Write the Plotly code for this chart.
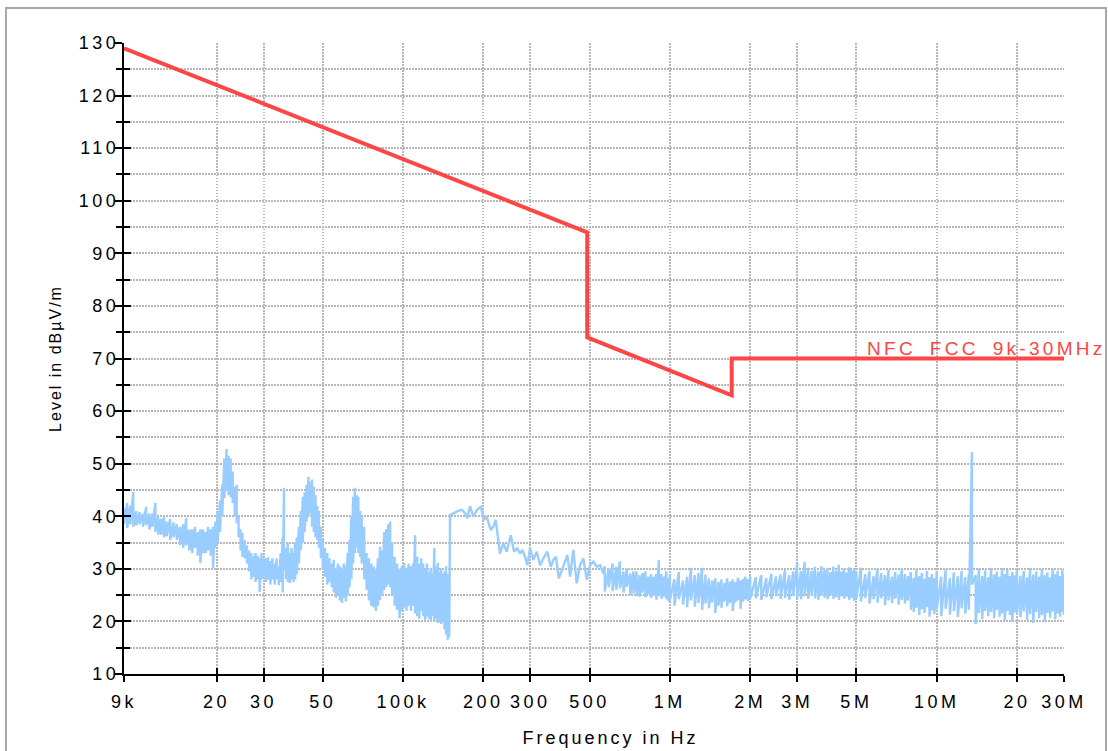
import math
import plotly.graph_objects as go

# ---------------- axis ticks ----------------
x_tick_vals = [9e3, 2e4, 3e4, 5e4, 1e5, 2e5, 3e5, 5e5, 1e6, 2e6, 3e6, 5e6, 1e7, 2e7, 3e7]
x_tick_text = ["9k", "20", "30", "50", "100k", "200", "300", "500", "1M", "2M", "3M", "5M", "10M", "20", "30M"]
y_tick_vals = [10, 20, 30, 40, 50, 60, 70, 80, 90, 100, 110, 120, 130]
y_minor_vals = [15, 25, 35, 45, 55, 65, 75, 85, 95, 105, 115, 125]

# ---------------- limit line ----------------
limit_name = "NFC_FCC_9k-30MHz"
limit_freq_hz = [9e3, 490e3, 490e3, 1.705e6, 1.705e6, 30e6]
limit_level = [129.0, 94.0, 74.0, 63.0, 70.0, 70.0]

# ---------------- measurement, 9 kHz - 150 kHz (peak hi / lo per step) ----------------
freq_a_khz = [9.0, 9.25, 9.5, 9.75, 10.0, 10.3, 10.6, 10.9, 11.2, 11.5, 11.8, 12.1, 12.4, 12.7, 13.0,
              13.4, 13.8, 14.2, 14.6, 15.0, 15.4, 15.8, 16.2, 16.6, 17.0, 17.4, 17.8, 18.2, 18.6, 19.0,
              19.4, 19.8, 20.2, 20.6, 21.0, 21.4, 21.8, 22.2, 22.6, 23.0, 23.4, 23.8, 24.2, 24.6, 25.0,
              25.5, 26.0, 26.5, 27.0, 27.5, 28.0, 28.5, 29.0, 29.5, 30.0, 30.6, 31.2, 31.8, 32.4, 33.0,
              33.6, 34.2, 34.8, 35.4, 35.8, 36.4, 37.0, 37.6, 38.2, 38.8, 39.4, 40.0, 40.7, 41.4, 42.1,
              42.8, 43.5, 44.2, 44.9, 45.6, 46.3, 47.0, 47.7, 48.4, 49.2, 50.0, 51.0, 52.0, 53.0, 54.0,
              55.0, 56.0, 57.0, 58.0, 59.0, 60.0, 61.0, 62.0, 63.0, 64.0, 65.0, 66.0, 67.0, 68.0, 69.0,
              70.0, 71.5, 73.0, 74.5, 76.0, 77.5, 79.0, 80.5, 82.0, 83.5, 85.0, 86.5, 88.0, 89.5, 91.0,
              93.0, 95.0, 97.0, 99.0, 101.0, 103.0, 105.0, 107.0, 109.0, 111.0, 113.0, 115.0, 117.0, 119.0, 121.0,
              123.0, 125.0, 127.0, 129.0, 131.0, 133.0, 135.0, 137.0, 139.0, 141.0, 143.0, 145.0, 147.0, 149.0]
hi_a = [41.5, 42.5, 42.0, 44.6, 41.0, 40.8, 40.5, 41.8, 40.5, 40.5, 42.5, 39.8, 39.5, 39.8, 39.0,
        39.5, 38.8, 38.5, 38.0, 38.5, 39.7, 37.5, 37.5, 38.0, 37.0, 37.5, 37.5, 37.0, 38.0, 37.5,
        38.0, 39.0, 41.0, 43.0, 46.0, 51.0, 52.8, 51.5, 51.0, 48.5, 45.6, 46.0, 40.0, 37.5, 36.8,
        35.5, 34.5, 33.5, 33.0, 32.5, 33.0, 32.5, 32.0, 33.0, 32.0, 32.0, 32.2, 31.5, 32.0, 31.0,
        32.0, 30.5, 33.0, 36.0, 45.4, 34.0, 34.9, 33.0, 34.0, 33.0, 35.0, 36.0, 38.0, 41.0, 43.7,
        44.5, 46.0, 47.5, 46.5, 47.0, 45.6, 44.0, 42.0, 41.0, 38.0, 35.5, 34.0, 33.0, 32.0, 31.0,
        31.7, 30.0, 31.0, 30.5, 30.0, 31.0, 30.5, 33.0, 35.5, 40.0, 43.7, 45.4, 44.0, 43.7, 41.0,
        40.0, 38.0, 33.0, 32.0, 31.0, 30.5, 30.0, 32.0, 34.2, 33.5, 37.0, 37.5, 38.5, 39.0, 35.0,
        32.3, 31.0, 30.0, 30.5, 31.1, 30.0, 31.0, 30.5, 31.0, 36.4, 32.3, 31.0, 32.0, 31.0, 30.0,
        31.0, 29.5, 30.0, 29.0, 34.0, 30.5, 31.1, 29.5, 30.0, 29.0, 29.5, 30.5, 29.0, 28.0]
lo_a = [38.5, 37.8, 38.5, 38.0, 38.3, 38.5, 38.0, 38.3, 37.5, 38.0, 37.0, 36.5, 36.5, 36.0, 36.2,
        35.5, 36.0, 35.5, 34.5, 34.0, 34.5, 33.5, 33.0, 34.0, 32.5, 31.1, 33.0, 33.0, 33.5, 32.5,
        30.1, 34.0, 35.0, 37.0, 40.0, 43.5, 45.0, 44.0, 43.6, 42.5, 40.0, 38.7, 36.0, 33.5, 32.3,
        32.0, 31.0, 29.5, 28.0, 28.5, 27.5, 28.0, 25.6, 28.0, 28.5, 27.5, 28.0, 27.0, 28.0, 27.0,
        28.0, 26.9, 27.5, 25.5, 30.0, 28.0, 27.5, 27.3, 28.0, 27.5, 28.0, 29.0, 31.0, 33.6, 35.0,
        37.0, 39.0, 40.0, 40.5, 38.0, 37.0, 36.0, 35.5, 34.0, 32.0, 30.0, 28.5, 27.0, 27.5, 26.5,
        25.5, 24.5, 25.0, 24.0, 23.5, 24.5, 23.8, 25.0, 26.5, 28.0, 31.0, 33.0, 34.0, 33.0, 32.3,
        31.0, 28.0, 26.0, 24.0, 23.0, 22.7, 22.0, 23.0, 24.1, 25.0, 26.0, 26.5, 27.0, 26.5, 25.0,
        23.0, 22.2, 20.6, 22.0, 22.7, 22.0, 23.0, 22.0, 23.0, 21.5, 21.0, 20.5, 22.0, 21.0, 20.3,
        21.0, 20.5, 20.0, 21.0, 20.0, 20.5, 19.7, 20.0, 19.5, 20.0, 18.5, 17.5, 16.5, 17.0]

# ---------------- measurement, 150 kHz - 565 kHz ----------------
freq_b_khz = [150.0, 154.4, 161.2, 166.0, 170.7, 174.2, 178.3, 183.5, 188.9, 195.5, 201.2, 205.9, 213.1,
              218.0, 222.5, 230.9, 237.6, 244.7, 253.3, 260.6, 268.1, 274.5, 280.0, 286.6, 292.4, 299.2,
              307.9, 317.0, 326.3, 335.6, 347.4, 357.8, 366.0, 374.5, 383.3, 394.4, 404.7, 412.8, 422.6,
              434.8, 447.7, 460.7, 474.1, 488.2, 502.3, 516.8, 532.2, 547.6, 563.3]
level_b = [40.2, 40.6, 41.05, 41.2, 40.6, 39.6, 41.9, 39.9, 41.2, 41.8, 39.3, 39.9, 37.4,
           38.0, 39.3, 32.9, 34.85, 33.25, 36.4, 33.25, 33.9, 32.9, 33.6, 32.3, 30.7, 33.9,
           31.7, 33.25, 30.7, 32.0, 33.25, 30.4, 31.7, 32.3, 28.2, 29.8, 31.35, 32.6, 28.5,
           33.6, 27.25, 30.7, 32.0, 27.9, 30.7, 31.35, 30.4, 30.7, 29.1]

# ---------------- measurement, 570 kHz - 30 MHz (peak hi / lo per step) ----------------
freq_c_khz = [570, 590, 610, 630, 650, 670, 690, 710, 730, 750, 770, 790, 810, 830, 850, 870, 890, 910, 930, 950, 970, 990,
              1000, 1040, 1080, 1120, 1160, 1200, 1240, 1280, 1320, 1360, 1400, 1440, 1480, 1520, 1560, 1600, 1640,
              1680, 1720, 1760, 1800, 1840, 1880, 1920, 1960, 2000,
              2100, 2200, 2300, 2400, 2500, 2600, 2700, 2800, 2900, 3000, 3100, 3200, 3300, 3400, 3500,
              3600, 3700, 3800, 3900, 4000, 4100, 4200, 4300, 4400, 4500, 4600, 4700, 4800, 4900, 5000,
              5200, 5400, 5600, 5800, 6000, 6200, 6400, 6600, 6800, 7000, 7200, 7400, 7600, 7800, 8000,
              8200, 8400, 8600, 8800, 9000, 9200, 9400, 9600, 9800, 10000,
              10400, 10800, 11200, 11600, 12000, 12400, 12800, 13200, 13560, 14000, 14400, 14800, 15200,
              15600, 16000, 16400, 16800, 17200, 17600, 18000, 18400, 18800, 19200, 19600, 20000,
              20600, 21200, 21800, 22400, 23000, 23600, 24200, 24800, 25400, 26000, 26600, 27200, 27800,
              28400, 29000, 29600, 30000]
hi_c = [30.5, 30.0, 31.0, 30.4, 31.4, 29.5, 30.0, 29.1, 29.5, 29.5, 28.8, 29.2, 29.5, 28.5, 29.0, 28.5, 29.0, 31.7, 29.0, 28.5, 29.5, 28.2,
        29.0, 28.0, 29.4, 27.8, 28.5, 30.2, 28.8, 29.2, 30.2, 28.9, 28.2, 27.8, 28.2, 27.5, 28.0, 27.3, 28.2,
        27.6, 28.0, 27.5, 28.3, 27.8, 28.1, 28.5, 28.0, 28.6,
        28.4, 28.8, 28.2, 29.0, 28.6, 28.9, 29.8, 28.8, 29.5, 31.0, 29.6, 31.3, 30.2, 29.6, 30.4,
        29.5, 30.5, 29.8, 30.2, 29.4, 30.4, 29.6, 30.8, 29.5, 30.0, 29.3, 30.3, 29.7, 30.1, 29.4,
        30.2, 29.0, 29.6, 28.6, 30.0, 29.2, 28.8, 29.8, 28.5, 29.4, 28.9, 30.1, 29.0, 28.6, 29.4,
        28.3, 29.8, 28.6, 29.2, 28.1, 29.6, 28.4, 29.0, 28.2, 29.5,
        28.5, 29.8, 28.2, 29.3, 28.6, 29.6, 28.4, 29.0, 52.2, 28.8, 30.0, 28.6, 29.7,
        28.4, 30.2, 28.9, 29.5, 28.5, 30.1, 29.0, 29.8, 28.6, 29.4, 28.8, 30.0,
        28.7, 29.6, 28.4, 30.2, 28.9, 29.5, 28.5, 29.9, 28.8, 29.3, 28.4, 30.0, 29.0,
        29.6, 28.6, 29.8, 28.9]
lo_c = [25.7, 26.5, 25.8, 26.0, 26.3, 25.5, 26.6, 25.0, 25.3, 24.8, 24.7, 25.5, 24.6, 25.2, 24.5, 25.0, 24.1, 25.0, 24.3, 24.7, 24.2, 23.8,
        24.0, 23.0, 24.2, 23.2, 22.7, 24.0, 22.8, 23.5, 22.2, 23.4, 22.5, 23.6, 21.6, 23.0, 22.6, 23.8, 22.9,
        23.5, 22.0, 23.6, 24.0, 22.4, 23.8, 24.2, 23.9, 24.3,
        24.4, 24.1, 24.6, 24.2, 24.8, 24.3, 24.5, 24.1, 24.9, 24.4, 24.2, 24.8, 24.3, 25.0, 24.4,
        24.1, 24.9, 24.5, 24.2, 25.0, 24.3, 24.6, 24.1, 24.8, 24.3, 24.7, 24.1, 24.5, 23.9, 24.4,
        23.8, 24.5, 23.4, 24.2, 23.6, 24.4, 23.1, 24.0, 23.5, 24.3, 23.2, 24.1, 23.4, 24.0, 22.2,
        21.8, 22.6, 21.2, 22.4, 21.6, 22.7, 20.9, 22.1, 21.4, 22.3,
        21.0, 22.4, 21.3, 22.0, 20.8, 22.5, 21.5, 22.2, 27.0, 19.5, 21.6, 20.4, 22.0,
        21.0, 21.8, 20.6, 22.2, 20.9, 21.5, 20.2, 22.0, 21.2, 20.0, 21.7, 21.3,
        20.8, 21.9, 20.3, 21.4, 19.7, 21.8, 20.6, 21.2, 20.0, 21.6, 20.7, 21.9, 20.4,
        21.5, 20.9, 21.8, 21.2]

assert len(freq_a_khz) == len(hi_a) == len(lo_a), (len(freq_a_khz), len(hi_a), len(lo_a))
assert len(freq_b_khz) == len(level_b)
assert len(freq_c_khz) == len(hi_c) == len(lo_c), (len(freq_c_khz), len(hi_c), len(lo_c))

# build the trace: each hi/lo step becomes a vertical stroke of the noise band
meas_f, meas_v = [], []
for f, h, l in zip(freq_a_khz, hi_a, lo_a):
    meas_f += [f * 1e3, f * 1e3]
    meas_v += [h, l]
for f, v in zip(freq_b_khz, level_b):
    meas_f.append(f * 1e3)
    meas_v.append(v)
for f, h, l in zip(freq_c_khz, hi_c, lo_c):
    meas_f += [f * 1e3, f * 1e3]
    meas_v += [h, l]

RED = "#ff4646"
BLUE = "#99ccff"
GRID = "#b8b8b8"
DOT = "1.5px,1.5px"
FONT = "Liberation Sans, Arial, sans-serif"

fig = go.Figure()
fig.add_trace(go.Scatter(x=meas_f, y=meas_v, mode="lines",
                         line=dict(color=BLUE, width=2.4), hoverinfo="skip", name="Measurement"))
fig.add_trace(go.Scatter(x=limit_freq_hz, y=limit_level, mode="lines", xaxis="x2", yaxis="y2",
                         line=dict(color=RED, width=4), name=limit_name, hoverinfo="skip"))

xr = [math.log10(9e3), math.log10(3e7)]
yr = [10, 130]

common_tick = dict(tickwidth=2, tickcolor="black")
fig.update_layout(
    width=1108, height=751,
    margin=dict(l=124, r=44, t=43, b=77),
    paper_bgcolor="white", plot_bgcolor="white",
    showlegend=False,
    font=dict(family=FONT, size=18, color="black"),
    xaxis=dict(type="log", range=xr, tickvals=x_tick_vals, ticktext=x_tick_text,
               ticks="outside", ticklen=6, **common_tick,
               showline=True, linewidth=2, linecolor="black",
               showgrid=True, gridcolor=GRID, gridwidth=1.5, griddash=DOT,
               zeroline=False, tickfont=dict(size=18, family=FONT), ticklabelstandoff=4),
    yaxis=dict(range=yr, tickvals=y_tick_vals, ticks="outside", ticklen=7, **common_tick,
               showline=True, linewidth=2, linecolor="black",
               showgrid=True, gridcolor=GRID, gridwidth=1.5, griddash=DOT,
               zeroline=False, tickfont=dict(size=18, family=FONT), ticklabelstandoff=-8,
               minor=dict(tickvals=y_minor_vals, ticks="outside", ticklen=6, tickwidth=2, tickcolor="black",
                          showgrid=True, gridcolor=GRID, gridwidth=1.5, griddash=DOT),
               title=dict(text="Level in dBµV/m", font=dict(size=16, family=FONT), standoff=24)),
    xaxis2=dict(type="log", range=xr, overlaying="x", anchor="y", side="bottom",
                tickvals=x_tick_vals, ticks="inside", ticklen=6, **common_tick,
                showticklabels=False, showgrid=False, showline=False, zeroline=False),
    yaxis2=dict(range=yr, overlaying="y", anchor="x", side="left",
                tickvals=y_tick_vals, ticks="inside", ticklen=7, **common_tick,
                minor=dict(tickvals=y_minor_vals, ticks="inside", ticklen=6, tickwidth=2, tickcolor="black",
                           showgrid=False),
                showticklabels=False, showgrid=False, showline=False, zeroline=False),
    annotations=[
        dict(text="Frequency in Hz", xref="paper", yref="paper", x=0.518, y=-0.1014,
             xanchor="center", yanchor="middle", showarrow=False, font=dict(size=18, family=FONT)),
        dict(text=limit_name, xref="x", yref="y", x=math.log10(5.39e6), y=70, yshift=-3,
             xanchor="left", yanchor="bottom", align="left", showarrow=False,
             font=dict(size=19, color=RED, family=FONT)),
    ],
    shapes=[dict(type="rect", xref="paper", yref="paper", x0=-0.1255, x1=1.0447, y0=-0.16, y1=1.0555,
                 line=dict(color="#a8a8a8", width=2), fillcolor="rgba(0,0,0,0)", layer="below")],
)

css = ("html,body{margin:0;padding:0;overflow:hidden}"
       ".xtick text,.ytick text{letter-spacing:3.5px}"
       ".annotation[data-index='0'] text{letter-spacing:3px}"
       ".annotation[data-index='1'] text{letter-spacing:3.3px}"
       ".ytitle{letter-spacing:2px}")
post = "var s=document.createElement('style');s.textContent=\"" + css + "\";document.head.appendChild(s);"

fig.write_html("out.html", config={"displayModeBar": False}, post_script=post)
